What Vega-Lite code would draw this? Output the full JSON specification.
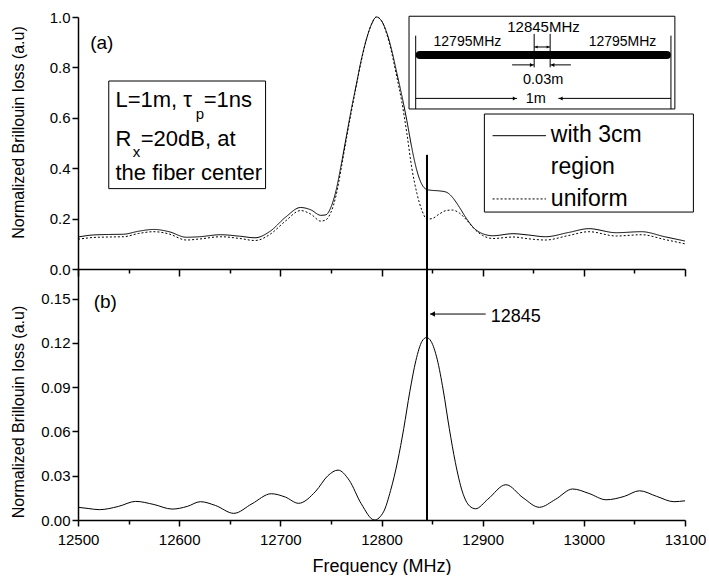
{
  "$schema": "https://vega.github.io/schema/vega-lite/v6.json",
  "padding": {"left": 9, "top": 10, "right": 0, "bottom": 0},
  "spacing": 0,
  "bounds": "flush",
  "config": {
    "view": {"stroke": null},
    "font": "Liberation Sans",
    "text": {"font": "Liberation Sans", "color": "black"},
    "axis": {
      "grid": false,
      "domainColor": "black",
      "domainWidth": 1.5,
      "tickColor": "black",
      "tickWidth": 1.5,
      "labelColor": "black",
      "labelFont": "Liberation Sans",
      "labelFontSize": 15,
      "labelOverlap": false,
      "labelFlush": false,
      "titleColor": "black",
      "titleFont": "Liberation Sans",
      "titleFontWeight": "normal"
    }
  },
  "datasets": {
    "spectra": [
      {"f": 12500, "v": 0.127, "series": "with 3cm region"},
      {"f": 12515, "v": 0.135, "series": "with 3cm region"},
      {"f": 12530, "v": 0.137, "series": "with 3cm region"},
      {"f": 12545, "v": 0.138, "series": "with 3cm region"},
      {"f": 12560, "v": 0.15, "series": "with 3cm region"},
      {"f": 12575, "v": 0.157, "series": "with 3cm region"},
      {"f": 12590, "v": 0.148, "series": "with 3cm region"},
      {"f": 12607, "v": 0.126, "series": "with 3cm region"},
      {"f": 12620, "v": 0.128, "series": "with 3cm region"},
      {"f": 12641, "v": 0.136, "series": "with 3cm region"},
      {"f": 12660, "v": 0.13, "series": "with 3cm region"},
      {"f": 12675, "v": 0.124, "series": "with 3cm region"},
      {"f": 12690, "v": 0.15, "series": "with 3cm region"},
      {"f": 12705, "v": 0.205, "series": "with 3cm region"},
      {"f": 12720, "v": 0.244, "series": "with 3cm region"},
      {"f": 12730, "v": 0.235, "series": "with 3cm region"},
      {"f": 12740, "v": 0.213, "series": "with 3cm region"},
      {"f": 12745, "v": 0.215, "series": "with 3cm region"},
      {"f": 12750, "v": 0.245, "series": "with 3cm region"},
      {"f": 12755, "v": 0.31, "series": "with 3cm region"},
      {"f": 12760, "v": 0.41, "series": "with 3cm region"},
      {"f": 12765, "v": 0.52, "series": "with 3cm region"},
      {"f": 12770, "v": 0.63, "series": "with 3cm region"},
      {"f": 12775, "v": 0.73, "series": "with 3cm region"},
      {"f": 12780, "v": 0.83, "series": "with 3cm region"},
      {"f": 12785, "v": 0.91, "series": "with 3cm region"},
      {"f": 12790, "v": 0.97, "series": "with 3cm region"},
      {"f": 12795, "v": 1.0, "series": "with 3cm region"},
      {"f": 12800, "v": 0.985, "series": "with 3cm region"},
      {"f": 12805, "v": 0.94, "series": "with 3cm region"},
      {"f": 12810, "v": 0.87, "series": "with 3cm region"},
      {"f": 12815, "v": 0.78, "series": "with 3cm region"},
      {"f": 12820, "v": 0.69, "series": "with 3cm region"},
      {"f": 12825, "v": 0.59, "series": "with 3cm region"},
      {"f": 12830, "v": 0.48, "series": "with 3cm region"},
      {"f": 12835, "v": 0.39, "series": "with 3cm region"},
      {"f": 12840, "v": 0.335, "series": "with 3cm region"},
      {"f": 12845, "v": 0.315, "series": "with 3cm region"},
      {"f": 12850, "v": 0.312, "series": "with 3cm region"},
      {"f": 12857, "v": 0.31, "series": "with 3cm region"},
      {"f": 12864, "v": 0.305, "series": "with 3cm region"},
      {"f": 12870, "v": 0.285, "series": "with 3cm region"},
      {"f": 12877, "v": 0.245, "series": "with 3cm region"},
      {"f": 12884, "v": 0.2, "series": "with 3cm region"},
      {"f": 12892, "v": 0.16, "series": "with 3cm region"},
      {"f": 12900, "v": 0.14, "series": "with 3cm region"},
      {"f": 12910, "v": 0.132, "series": "with 3cm region"},
      {"f": 12930, "v": 0.14, "series": "with 3cm region"},
      {"f": 12945, "v": 0.135, "series": "with 3cm region"},
      {"f": 12962, "v": 0.128, "series": "with 3cm region"},
      {"f": 12985, "v": 0.145, "series": "with 3cm region"},
      {"f": 13005, "v": 0.16, "series": "with 3cm region"},
      {"f": 13032, "v": 0.144, "series": "with 3cm region"},
      {"f": 13057, "v": 0.148, "series": "with 3cm region"},
      {"f": 13080, "v": 0.128, "series": "with 3cm region"},
      {"f": 13100, "v": 0.111, "series": "with 3cm region"},
      {"f": 12500, "v": 0.118, "series": "uniform"},
      {"f": 12515, "v": 0.125, "series": "uniform"},
      {"f": 12530, "v": 0.127, "series": "uniform"},
      {"f": 12545, "v": 0.128, "series": "uniform"},
      {"f": 12560, "v": 0.141, "series": "uniform"},
      {"f": 12575, "v": 0.148, "series": "uniform"},
      {"f": 12590, "v": 0.139, "series": "uniform"},
      {"f": 12607, "v": 0.115, "series": "uniform"},
      {"f": 12620, "v": 0.119, "series": "uniform"},
      {"f": 12641, "v": 0.128, "series": "uniform"},
      {"f": 12660, "v": 0.121, "series": "uniform"},
      {"f": 12675, "v": 0.113, "series": "uniform"},
      {"f": 12690, "v": 0.138, "series": "uniform"},
      {"f": 12705, "v": 0.19, "series": "uniform"},
      {"f": 12720, "v": 0.232, "series": "uniform"},
      {"f": 12730, "v": 0.218, "series": "uniform"},
      {"f": 12740, "v": 0.19, "series": "uniform"},
      {"f": 12745, "v": 0.195, "series": "uniform"},
      {"f": 12750, "v": 0.225, "series": "uniform"},
      {"f": 12755, "v": 0.29, "series": "uniform"},
      {"f": 12760, "v": 0.395, "series": "uniform"},
      {"f": 12765, "v": 0.51, "series": "uniform"},
      {"f": 12770, "v": 0.62, "series": "uniform"},
      {"f": 12775, "v": 0.725, "series": "uniform"},
      {"f": 12780, "v": 0.825, "series": "uniform"},
      {"f": 12785, "v": 0.91, "series": "uniform"},
      {"f": 12790, "v": 0.97, "series": "uniform"},
      {"f": 12795, "v": 1.0, "series": "uniform"},
      {"f": 12800, "v": 0.985, "series": "uniform"},
      {"f": 12805, "v": 0.935, "series": "uniform"},
      {"f": 12810, "v": 0.86, "series": "uniform"},
      {"f": 12815, "v": 0.765, "series": "uniform"},
      {"f": 12820, "v": 0.665, "series": "uniform"},
      {"f": 12825, "v": 0.54, "series": "uniform"},
      {"f": 12830, "v": 0.4, "series": "uniform"},
      {"f": 12835, "v": 0.3, "series": "uniform"},
      {"f": 12840, "v": 0.232, "series": "uniform"},
      {"f": 12845, "v": 0.198, "series": "uniform"},
      {"f": 12850, "v": 0.2, "series": "uniform"},
      {"f": 12857, "v": 0.218, "series": "uniform"},
      {"f": 12864, "v": 0.232, "series": "uniform"},
      {"f": 12870, "v": 0.234, "series": "uniform"},
      {"f": 12877, "v": 0.222, "series": "uniform"},
      {"f": 12884, "v": 0.195, "series": "uniform"},
      {"f": 12892, "v": 0.158, "series": "uniform"},
      {"f": 12900, "v": 0.133, "series": "uniform"},
      {"f": 12910, "v": 0.121, "series": "uniform"},
      {"f": 12930, "v": 0.127, "series": "uniform"},
      {"f": 12945, "v": 0.12, "series": "uniform"},
      {"f": 12962, "v": 0.115, "series": "uniform"},
      {"f": 12985, "v": 0.133, "series": "uniform"},
      {"f": 13005, "v": 0.148, "series": "uniform"},
      {"f": 13032, "v": 0.131, "series": "uniform"},
      {"f": 13057, "v": 0.136, "series": "uniform"},
      {"f": 13080, "v": 0.117, "series": "uniform"},
      {"f": 13100, "v": 0.1, "series": "uniform"}
    ],
    "difference": [
      {"f": 12500, "v": 0.0086},
      {"f": 12510, "v": 0.0078},
      {"f": 12521, "v": 0.007},
      {"f": 12540, "v": 0.0092},
      {"f": 12557, "v": 0.0126},
      {"f": 12575, "v": 0.0105},
      {"f": 12593, "v": 0.0074},
      {"f": 12608, "v": 0.0092},
      {"f": 12621, "v": 0.0124},
      {"f": 12636, "v": 0.0098},
      {"f": 12654, "v": 0.0045},
      {"f": 12672, "v": 0.011},
      {"f": 12691, "v": 0.0178},
      {"f": 12705, "v": 0.0155},
      {"f": 12718, "v": 0.0113},
      {"f": 12735, "v": 0.0195},
      {"f": 12747, "v": 0.03},
      {"f": 12757, "v": 0.0338},
      {"f": 12768, "v": 0.027},
      {"f": 12780, "v": 0.011},
      {"f": 12793, "v": 0.0},
      {"f": 12802, "v": 0.0055},
      {"f": 12809, "v": 0.02},
      {"f": 12816, "v": 0.04},
      {"f": 12822, "v": 0.062},
      {"f": 12828, "v": 0.087},
      {"f": 12834, "v": 0.108},
      {"f": 12840, "v": 0.121},
      {"f": 12844.5, "v": 0.1236},
      {"f": 12849, "v": 0.121},
      {"f": 12855, "v": 0.109},
      {"f": 12861, "v": 0.088},
      {"f": 12867, "v": 0.062},
      {"f": 12873, "v": 0.039},
      {"f": 12880, "v": 0.019},
      {"f": 12887, "v": 0.0095},
      {"f": 12893, "v": 0.0076},
      {"f": 12905, "v": 0.014},
      {"f": 12923, "v": 0.0239},
      {"f": 12940, "v": 0.015},
      {"f": 12956, "v": 0.0086},
      {"f": 12972, "v": 0.014},
      {"f": 12989, "v": 0.021},
      {"f": 13005, "v": 0.018},
      {"f": 13022, "v": 0.0137},
      {"f": 13040, "v": 0.016},
      {"f": 13055, "v": 0.0198},
      {"f": 13072, "v": 0.016},
      {"f": 13089, "v": 0.0124},
      {"f": 13100, "v": 0.013}
    ]
  },
  "vconcat": [
    {
      "width": 607,
      "height": 252,
      "data": {"values": [{}]},
      "layer": [
        {
          "data": {"name": "spectra"},
          "mark": {"type": "line", "interpolate": "monotone", "color": "black", "strokeWidth": 1},
          "encoding": {
            "x": {
              "field": "f", "type": "quantitative",
              "scale": {"domain": [12500, 13100], "nice": false, "zero": false},
              "axis": {
                "title": null, "labels": false,
                "values": [12500, 12550, 12600, 12650, 12700, 12750, 12800, 12850, 12900, 12950, 13000, 13050, 13100],
                "tickSize": {"condition": {"test": "datum.value % 100 !== 0", "value": 4}, "value": 7}
              }
            },
            "y": {
              "field": "v", "type": "quantitative",
              "scale": {"domain": [0, 1], "nice": false},
              "axis": {
                "title": "Normalized Brillouin loss (a.u)",
                "titleFontSize": 16,
                "titleX": -52,
                "titleY": 115,
                "values": [0, 0.1, 0.2, 0.3, 0.4, 0.5, 0.6, 0.7, 0.8, 0.9, 1.0],
                "labelExpr": "abs(datum.value * 5 - round(datum.value * 5)) > 0.01 ? '' : format(datum.value, '.1f')",
                "labelPadding": 2,
                "tickSize": {"condition": {"test": "abs(datum.value * 5 - round(datum.value * 5)) > 0.01", "value": 3.5}, "value": 6}
              }
            },
            "strokeDash": {
              "field": "series", "type": "nominal",
              "scale": {"domain": ["with 3cm region", "uniform"], "range": [[1, 0], [2, 2]]},
              "legend": null
            }
          }
        },
        {
          "mark": {"type": "rule", "color": "black", "strokeWidth": 2},
          "encoding": {"x": {"datum": 12845}, "y": {"datum": 0}, "y2": {"datum": 0.453}}
        },
        {
          "mark": {"type": "text", "text": "(a)", "fontSize": 19, "align": "left", "baseline": "alphabetic"},
          "encoding": {"x": {"datum": 12512}, "y": {"datum": 0.873}}
        },
        {
          "mark": {"type": "rect", "fill": "white", "stroke": "black", "strokeWidth": 1},
          "encoding": {"x": {"datum": 12530.4}, "x2": {"datum": 12685.4}, "y": {"datum": 0.746}, "y2": {"datum": 0.319}}
        },
        {
          "mark": {"type": "text", "text": "L=1m, τ", "fontSize": 22, "align": "left", "baseline": "alphabetic"},
          "encoding": {"x": {"datum": 12537}, "y": {"datum": 0.643}}
        },
        {
          "mark": {"type": "text", "text": "p", "fontSize": 15, "align": "left", "baseline": "alphabetic"},
          "encoding": {"x": {"datum": 12616.3}, "y": {"datum": 0.596}}
        },
        {
          "mark": {"type": "text", "text": "=1ns", "fontSize": 22, "align": "left", "baseline": "alphabetic"},
          "encoding": {"x": {"datum": 12624.2}, "y": {"datum": 0.643}}
        },
        {
          "mark": {"type": "text", "text": "R", "fontSize": 22, "align": "left", "baseline": "alphabetic"},
          "encoding": {"x": {"datum": 12537}, "y": {"datum": 0.487}}
        },
        {
          "mark": {"type": "text", "text": "x", "fontSize": 15, "align": "left", "baseline": "alphabetic"},
          "encoding": {"x": {"datum": 12554.1}, "y": {"datum": 0.444}}
        },
        {
          "mark": {"type": "text", "text": "=20dB, at", "fontSize": 22, "align": "left", "baseline": "alphabetic"},
          "encoding": {"x": {"datum": 12562}, "y": {"datum": 0.487}}
        },
        {
          "mark": {"type": "text", "text": "the fiber center", "fontSize": 22, "align": "left", "baseline": "alphabetic"},
          "encoding": {"x": {"datum": 12537}, "y": {"datum": 0.354}}
        },
        {
          "mark": {"type": "rect", "fill": "white", "stroke": "black", "strokeWidth": 1},
          "encoding": {"x": {"datum": 12901.7}, "x2": {"datum": 13108.3}, "y": {"datum": 0.615}, "y2": {"datum": 0.226}}
        },
        {
          "mark": {"type": "rule", "color": "black", "strokeWidth": 1},
          "encoding": {"x": {"datum": 12909.8}, "x2": {"datum": 12962.6}, "y": {"datum": 0.529}}
        },
        {
          "mark": {"type": "rule", "color": "black", "strokeWidth": 1, "strokeDash": [2, 2]},
          "encoding": {"x": {"datum": 12909.8}, "x2": {"datum": 12962.6}, "y": {"datum": 0.278}}
        },
        {
          "mark": {"type": "text", "text": "with 3cm", "fontSize": 23, "align": "left", "baseline": "alphabetic"},
          "encoding": {"x": {"datum": 12967.4}, "y": {"datum": 0.503}}
        },
        {
          "mark": {"type": "text", "text": "region", "fontSize": 23, "align": "left", "baseline": "alphabetic"},
          "encoding": {"x": {"datum": 12967.4}, "y": {"datum": 0.377}}
        },
        {
          "mark": {"type": "text", "text": "uniform", "fontSize": 23, "align": "left", "baseline": "alphabetic"},
          "encoding": {"x": {"datum": 12967.4}, "y": {"datum": 0.251}}
        },
        {
          "mark": {"type": "rect", "fill": "white", "stroke": "black", "strokeWidth": 1},
          "encoding": {"x": {"datum": 12827.2}, "x2": {"datum": 13090}, "y": {"datum": 1.003}, "y2": {"datum": 0.635}}
        },
        {
          "mark": {"type": "rule", "color": "black", "strokeWidth": 8, "strokeCap": "round"},
          "encoding": {"x": {"datum": 12837.8}, "x2": {"datum": 13082.1}, "y": {"datum": 0.849}}
        },
        {
          "mark": {"type": "rule", "color": "black", "strokeWidth": 1},
          "encoding": {"x": {"datum": 12833.8}, "y": {"datum": 0.926}, "y2": {"datum": 0.635}}
        },
        {
          "mark": {"type": "rule", "color": "black", "strokeWidth": 1},
          "encoding": {"x": {"datum": 13086.1}, "y": {"datum": 0.926}, "y2": {"datum": 0.635}}
        },
        {
          "mark": {"type": "rule", "color": "black", "strokeWidth": 1},
          "encoding": {"x": {"datum": 12950.9}, "y": {"datum": 0.933}, "y2": {"datum": 0.8}}
        },
        {
          "mark": {"type": "rule", "color": "black", "strokeWidth": 1},
          "encoding": {"x": {"datum": 12966.7}, "y": {"datum": 0.933}, "y2": {"datum": 0.8}}
        },
        {
          "mark": {"type": "rule", "color": "black", "strokeWidth": 1},
          "encoding": {"x": {"datum": 12951}, "x2": {"datum": 12966.6}, "y": {"datum": 0.881}}
        },
        {
          "mark": {"type": "point", "shape": "triangle-left", "filled": true, "color": "black", "size": 10, "opacity": 1},
          "encoding": {"x": {"datum": 12953}, "y": {"datum": 0.881}}
        },
        {
          "mark": {"type": "point", "shape": "triangle-right", "filled": true, "color": "black", "size": 10, "opacity": 1},
          "encoding": {"x": {"datum": 12964.6}, "y": {"datum": 0.881}}
        },
        {
          "mark": {"type": "rule", "color": "black", "strokeWidth": 1},
          "encoding": {"x": {"datum": 12929.1}, "x2": {"datum": 12950.9}, "y": {"datum": 0.81}}
        },
        {
          "mark": {"type": "point", "shape": "triangle-right", "filled": true, "color": "black", "size": 16, "opacity": 1},
          "encoding": {"x": {"datum": 12948.4}, "y": {"datum": 0.81}}
        },
        {
          "mark": {"type": "rule", "color": "black", "strokeWidth": 1},
          "encoding": {"x": {"datum": 12966.7}, "x2": {"datum": 12987.2}, "y": {"datum": 0.81}}
        },
        {
          "mark": {"type": "point", "shape": "triangle-left", "filled": true, "color": "black", "size": 16, "opacity": 1},
          "encoding": {"x": {"datum": 12969.2}, "y": {"datum": 0.81}}
        },
        {
          "mark": {"type": "rule", "color": "black", "strokeWidth": 1},
          "encoding": {"x": {"datum": 12833.8}, "x2": {"datum": 12934}, "y": {"datum": 0.677}}
        },
        {
          "mark": {"type": "point", "shape": "triangle-right", "filled": true, "color": "black", "size": 16, "opacity": 1},
          "encoding": {"x": {"datum": 12931.5}, "y": {"datum": 0.677}}
        },
        {
          "mark": {"type": "rule", "color": "black", "strokeWidth": 1},
          "encoding": {"x": {"datum": 12974.8}, "x2": {"datum": 13086.1}, "y": {"datum": 0.677}}
        },
        {
          "mark": {"type": "point", "shape": "triangle-left", "filled": true, "color": "black", "size": 16, "opacity": 1},
          "encoding": {"x": {"datum": 12977.3}, "y": {"datum": 0.677}}
        },
        {
          "mark": {"type": "text", "text": "12795MHz", "fontSize": 14, "align": "center", "baseline": "alphabetic"},
          "encoding": {"x": {"datum": 12884.9}, "y": {"datum": 0.884}}
        },
        {
          "mark": {"type": "text", "text": "12795MHz", "fontSize": 14, "align": "center", "baseline": "alphabetic"},
          "encoding": {"x": {"datum": 13038.2}, "y": {"datum": 0.884}}
        },
        {
          "mark": {"type": "text", "text": "12845MHz", "fontSize": 15, "align": "center", "baseline": "alphabetic"},
          "encoding": {"x": {"datum": 12960.1}, "y": {"datum": 0.942}}
        },
        {
          "mark": {"type": "text", "text": "0.03m", "fontSize": 14.5, "align": "center", "baseline": "alphabetic"},
          "encoding": {"x": {"datum": 12959.8}, "y": {"datum": 0.734}}
        },
        {
          "mark": {"type": "text", "text": "1m", "fontSize": 14.5, "align": "center", "baseline": "alphabetic"},
          "encoding": {"x": {"datum": 12952.5}, "y": {"datum": 0.659}}
        }
      ]
    },
    {
      "width": 607,
      "height": 251,
      "data": {"values": [{}]},
      "layer": [
        {
          "data": {"name": "difference"},
          "mark": {"type": "line", "interpolate": "monotone", "color": "black", "strokeWidth": 1},
          "encoding": {
            "x": {
              "field": "f", "type": "quantitative",
              "scale": {"domain": [12500, 13100], "nice": false, "zero": false},
              "axis": {
                "title": "Frequency (MHz)",
                "titleFontSize": 18,
                "titlePadding": 10,
                "values": [12500, 12550, 12600, 12650, 12700, 12750, 12800, 12850, 12900, 12950, 13000, 13050, 13100],
                "labelExpr": "datum.value % 100 !== 0 ? '' : format(datum.value, 'd')",
                "labelPadding": 6,
                "tickSize": {"condition": {"test": "datum.value % 100 !== 0", "value": 4}, "value": 6}
              }
            },
            "y": {
              "field": "v", "type": "quantitative",
              "scale": {"domain": [0, 0.17], "nice": false},
              "axis": {
                "title": "Normalized Brillouin loss (a.u)",
                "titleFontSize": 16,
                "titleX": -52,
                "titleY": 142.5,
                "values": [0, 0.015, 0.03, 0.045, 0.06, 0.075, 0.09, 0.105, 0.12, 0.135, 0.15, 0.165],
                "labelExpr": "abs(datum.value / 0.03 - round(datum.value / 0.03)) > 0.01 ? '' : format(datum.value, '.2f')",
                "labelPadding": 2,
                "tickSize": {"condition": {"test": "abs(datum.value / 0.03 - round(datum.value / 0.03)) > 0.01", "value": 3.5}, "value": 6}
              }
            }
          }
        },
        {
          "mark": {"type": "rule", "color": "black", "strokeWidth": 2},
          "encoding": {"x": {"datum": 12845}, "y": {"datum": 0}, "y2": {"datum": 0.17}}
        },
        {
          "mark": {"type": "rule", "color": "black", "strokeWidth": 1},
          "encoding": {"x": {"datum": 12848}, "x2": {"datum": 12903}, "y": {"datum": 0.1395}}
        },
        {
          "mark": {"type": "point", "shape": "triangle-left", "filled": true, "color": "black", "size": 30, "opacity": 1},
          "encoding": {"x": {"datum": 12850.5}, "y": {"datum": 0.1395}}
        },
        {
          "mark": {"type": "text", "text": "(b)", "fontSize": 19, "align": "left", "baseline": "alphabetic"},
          "encoding": {"x": {"datum": 12515.5}, "y": {"datum": 0.1436}}
        },
        {
          "mark": {"type": "text", "text": "12845", "fontSize": 18, "align": "left", "baseline": "alphabetic"},
          "encoding": {"x": {"datum": 12908}, "y": {"datum": 0.1339}}
        }
      ]
    }
  ]
}
